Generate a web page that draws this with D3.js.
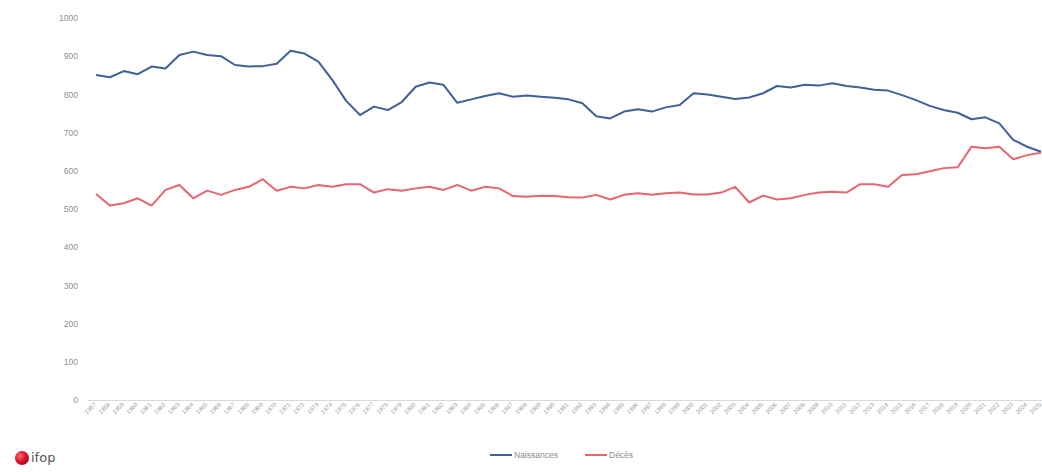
<!DOCTYPE html>
<html>
<head>
<meta charset="utf-8">
<script src="https://cdn.jsdelivr.net/npm/d3@7"></script>
<style>
  html, body { margin: 0; padding: 0; background: #ffffff; }
  svg { display: block; font-family: "Liberation Sans", Arial, sans-serif; }
</style>
</head>
<body>
<svg id="chart" width="1042" height="472"></svg>
<script>
// Years covered by the series
const years = d3.range(1957, 2026).map(String);

// Births per year, thousands
const naissances = [
  851, 845, 861, 853, 873, 868, 903, 912, 903, 900,
  877, 873, 874, 880, 914, 907, 886, 838, 783, 746,
  768, 759, 780, 820, 831, 825, 778, 787, 796, 803,
  794, 797, 794, 791, 787, 777, 743, 737, 755, 761,
  755, 766, 772, 803, 800, 794, 788, 792, 803, 822,
  818, 825, 823, 829, 822, 818, 812, 810, 798, 785,
  770, 759, 752, 735, 740, 724, 681, 663, 650
];

// Deaths per year, thousands
const deces = [
  539, 509, 515, 528, 509, 550, 563, 528, 548, 537,
  550, 558, 578, 548, 558, 554, 563, 558, 565, 565,
  543, 552, 548, 554, 558, 550, 563, 548, 558, 554,
  534, 532, 535, 534, 531, 530, 537, 525, 537, 541,
  537, 541, 543, 538, 538, 543, 558, 517, 535, 525,
  528, 537, 543, 545, 543, 565, 565, 558, 589, 591,
  599, 607, 609, 663, 659, 663, 630, 641, 647
];

const yTicks = [0, 100, 200, 300, 400, 500, 600, 700, 800, 900, 1000];

const series = [
  { name: "Naissances", values: naissances, color: "#3f6198" },
  { name: "Décès", values: deces, color: "#e6656f" }
];

const svg = d3.select("#chart");

const x = d3.scalePoint().domain(years).range([96, 1041]);
const y = d3.scaleLinear().domain([0, 1000]).range([400, 18]);

// Y axis labels (no axis line, no grid)
const yAxis = svg.append("g")
  .attr("transform", "translate(78,0)")
  .call(d3.axisLeft(y).tickValues(yTicks).tickSize(0).tickPadding(0).tickFormat(d3.format("d")));
yAxis.select(".domain").remove();
yAxis.selectAll("text")
  .attr("fill", "#8f8f8f")
  .style("font-size", "8.5px");

// Category axis with slanted year labels
const xAxis = svg.append("g")
  .attr("transform", "translate(0,400)")
  .call(d3.axisBottom(x).tickSize(0).tickPadding(0));
xAxis.select(".domain")
  .attr("d", "M88,0.5H1042")
  .attr("stroke", "#d9d9d9")
  .attr("stroke-width", 1);
xAxis.selectAll("text")
  .attr("fill", "#9a9a9a")
  .style("font-size", "6px")
  .attr("text-anchor", "end")
  .attr("dy", null)
  .attr("transform", "translate(0,5) rotate(-45)");

// Series lines
const line = d3.line()
  .x((d, i) => x(years[i]))
  .y(d => y(d));

svg.append("g")
  .selectAll("path")
  .data(series)
  .join("path")
  .attr("d", s => line(s.values))
  .attr("fill", "none")
  .attr("stroke", s => s.color)
  .attr("stroke-width", 2)
  .attr("stroke-linejoin", "round");

// Legend
const legend = svg.append("g").attr("transform", "translate(490,455)");
const legendItems = legend.selectAll("g")
  .data(series)
  .join("g")
  .attr("transform", (d, i) => `translate(${i * 95},0)`);
legendItems.append("line")
  .attr("x1", 0).attr("x2", 22)
  .attr("stroke", d => d.color)
  .attr("stroke-width", 2);
legendItems.append("text")
  .attr("x", 24)
  .attr("dy", "0.35em")
  .attr("fill", "#8c8c8c")
  .style("font-size", "8.5px")
  .text(d => d.name);

// Brand mark, bottom left
const defs = svg.append("defs");
const grad = defs.append("radialGradient").attr("id", "logoDot")
  .attr("cx", "35%").attr("cy", "35%").attr("r", "70%");
grad.append("stop").attr("offset", "0%").attr("stop-color", "#ff6a6a");
grad.append("stop").attr("offset", "60%").attr("stop-color", "#d8102a");
grad.append("stop").attr("offset", "100%").attr("stop-color", "#a50a1e");
const logo = svg.append("g").attr("transform", "translate(22,458)");
logo.append("circle").attr("r", 7).attr("fill", "url(#logoDot)");
logo.append("text")
  .attr("x", 9).attr("y", 4)
  .attr("fill", "#555555")
  .style("font-size", "13px")
  .style("font-family", "DejaVu Sans, sans-serif")
  .text("ifop");
</script>
</body>
</html>
